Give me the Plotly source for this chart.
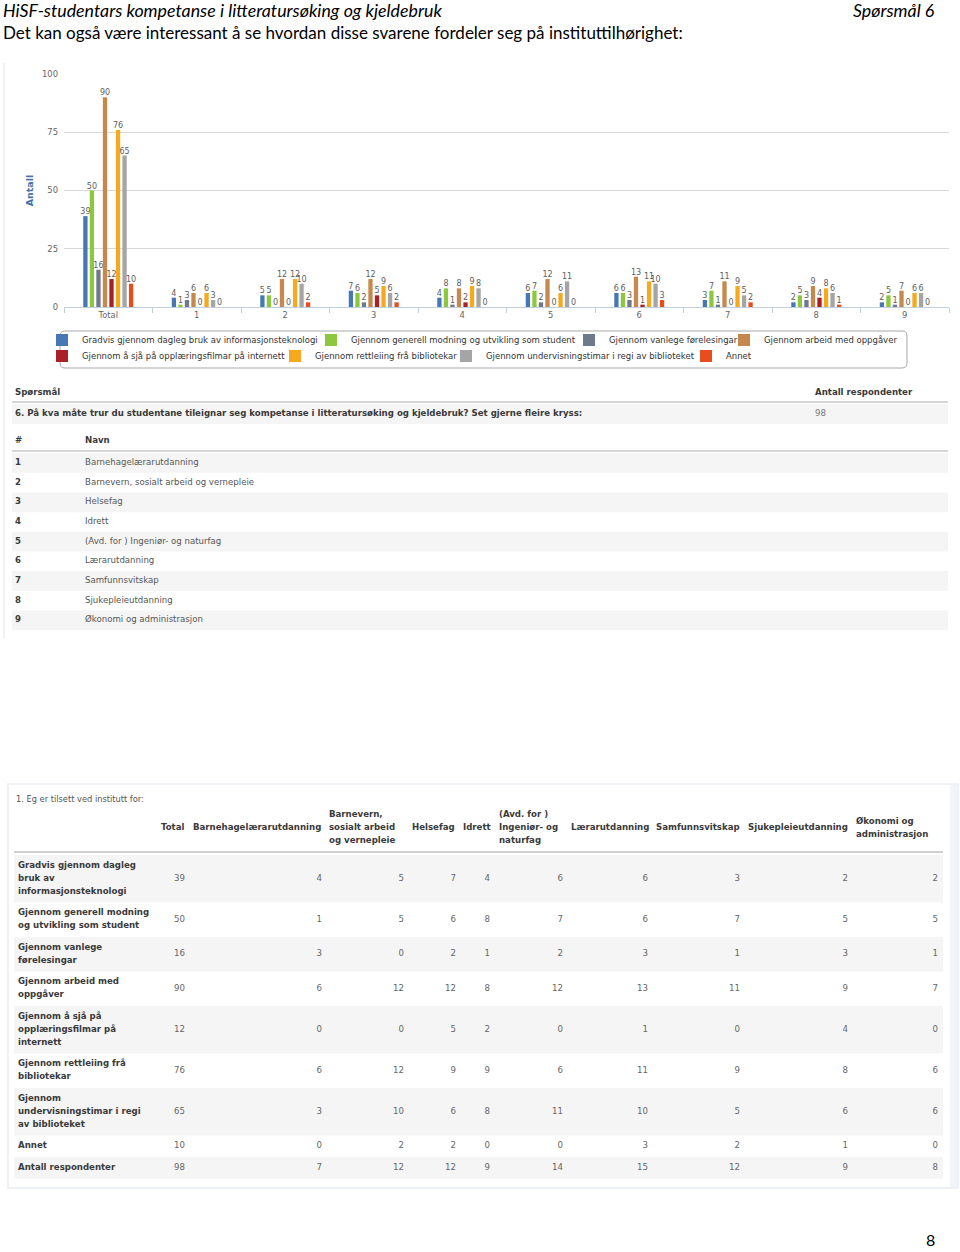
import plotly.graph_objects as go

W, H = 960, 1252

# ---------------- data ----------------
categories = ["Total", "1", "2", "3", "4", "5", "6", "7", "8", "9"]

series_names = [
    "Gradvis gjennom dagleg bruk av informasjonsteknologi",
    "Gjennom generell modning og utvikling som student",
    "Gjennom vanlege førelesingar",
    "Gjennom arbeid med oppgåver",
    "Gjennom å sjå på opplæringsfilmar på internett",
    "Gjennom rettleiing frå bibliotekar",
    "Gjennom undervisningstimar i regi av biblioteket",
    "Annet",
]
gradvis = [39, 4, 5, 7, 4, 6, 6, 3, 2, 2]
generell = [50, 1, 5, 6, 8, 7, 6, 7, 5, 5]
vanlege = [16, 3, 0, 2, 1, 2, 3, 1, 3, 1]
arbeid = [90, 6, 12, 12, 8, 12, 13, 11, 9, 7]
filmar = [12, 0, 0, 5, 2, 0, 1, 0, 4, 0]
rettleiing = [76, 6, 12, 9, 9, 6, 11, 9, 8, 6]
undervisning = [65, 3, 10, 6, 8, 11, 10, 5, 6, 6]
annet = [10, 0, 2, 2, 0, 0, 3, 2, 1, 0]
respondents = [98, 7, 12, 12, 9, 14, 15, 12, 9, 8]
series_values = [gradvis, generell, vanlege, arbeid, filmar, rettleiing, undervisning, annet]

department_names = [
    "Barnehagelærarutdanning",
    "Barnevern, sosialt arbeid og vernepleie",
    "Helsefag",
    "Idrett",
    "(Avd. for ) Ingeniør- og naturfag",
    "Lærarutdanning",
    "Samfunnsvitskap",
    "Sjukepleieutdanning",
    "Økonomi og administrasjon",
]
department_headers = [
    "Barnehagelærarutdanning",
    "Barnevern,<br>sosialt arbeid<br>og vernepleie",
    "Helsefag",
    "Idrett",
    "(Avd. for )<br>Ingeniør- og<br>naturfag",
    "Lærarutdanning",
    "Samfunnsvitskap",
    "Sjukepleieutdanning",
    "Økonomi og<br>administrasjon",
]
row_labels = [
    "Gradvis gjennom dagleg<br>bruk av<br>informasjonsteknologi",
    "Gjennom generell modning<br>og utvikling som student",
    "Gjennom vanlege<br>førelesingar",
    "Gjennom arbeid med<br>oppgåver",
    "Gjennom å sjå på<br>opplæringsfilmar på<br>internett",
    "Gjennom rettleiing frå<br>bibliotekar",
    "Gjennom<br>undervisningstimar i regi<br>av biblioteket",
    "Annet",
]
respondents_label = "Antall respondenter"
question_text = ("6. På kva måte trur du studentane tileignar seg kompetanse i litteratursøking "
                 "og kjeldebruk? Set gjerne fleire kryss:")
question_respondents = 98
table_c_title = "1. Eg er tilsett ved institutt for:"

# ---------------- styles ----------------
colors = ["#4778b4", "#8dc63f", "#6e7a89", "#c6894d", "#ab1f26", "#f6a91c", "#a5a5a5", "#e84d1d"]
legend_slot = [224, 213, 110, 145, 188, 126, 195, 40]
TF = "DejaVu Sans"
TS = 8.6
GRAY = "#f5f5f5"
CLEAR = "rgba(0,0,0,0)"
DARK = "#3a3a3a"
MID = "#666666"

fig = go.Figure()

for i, (name, vals) in enumerate(zip(series_names, series_values)):
    fig.add_trace(go.Bar(
        x=categories, y=vals, name=name,
        marker=dict(color=colors[i], line=dict(width=0)),
        text=vals, textposition="outside", textangle=0,
        constraintext="none", cliponaxis=False,
        textfont=dict(family=TF, size=8, color="#606060"),
        legend="legend" if i < 4 else "legend2",
        legendwidth=legend_slot[i],
        hoverinfo="skip",
    ))


# ---------------- tables (text drawn on a page-sized pixel axis x2/y2) ----------------
def add_text(xs, ys, texts, pos, color=MID, size=TS, family=TF):
    fig.add_trace(go.Scatter(
        x=xs, y=ys, text=texts, mode="text", textposition=pos,
        textfont=dict(family=family, size=size, color=color),
        xaxis="x2", yaxis="y2", showlegend=False, hoverinfo="skip", cliponaxis=False))


def bold(t):
    return "<b>" + str(t) + "</b>"


shapes = []


def stripe(x0, x1, y0, y1, color=GRAY):
    shapes.append(dict(type="rect", xref="x2", yref="y2", x0=x0, x1=x1, y0=y0, y1=y1,
                       line=dict(width=0), fillcolor=color, layer="below"))


def hline(x0, x1, y, color="#d6d6d6", width=2):
    shapes.append(dict(type="line", xref="x2", yref="y2", x0=x0, x1=x1, y0=y, y1=y,
                       line=dict(color=color, width=width), layer="below"))


# Table A: question
TA_head, TA_row, TA_h = 393, 414, 20
add_text([15, 815], [TA_head, TA_head], [bold("Spørsmål"), bold("Antall respondenter")], "middle right", DARK)
hline(12, 948, 402)
stripe(12, 948, TA_row - TA_h / 2, TA_row + TA_h / 2)
add_text([15], [TA_row], [bold(question_text)], "middle right", DARK)
add_text([815], [TA_row], [str(question_respondents)], "middle right", "#777777")

# Table B: department list
TB_head, TB_first, TB_h = 441, 463, 19.65
add_text([15, 85], [TB_head, TB_head], [bold("#"), bold("Navn")], "middle right", DARK)
hline(12, 948, 451)
tb_y = [TB_first + k * TB_h for k in range(len(department_names))]
for k, yc in enumerate(tb_y):
    if k % 2 == 0:
        stripe(12, 948, yc - TB_h / 2, yc + TB_h / 2)
add_text([15] * len(tb_y), tb_y, [bold(k + 1) for k in range(len(tb_y))], "middle right", DARK)
add_text([85] * len(tb_y), tb_y, department_names, "middle right", "#555555")

# Table C: cross tabulation
LINE = 13
header_left = [161, 193, 329, 412, 463, 499, 571, 656, 748, 856]
value_right = [185, 322, 404, 456, 490, 563, 648, 740, 848, 938]
label_x = 18
head_c = 828
top_c = 855

hx, hy, ht = [], [], []
for xh, htxt in zip(header_left, ["Total"] + department_headers):
    parts = htxt.split("<br>")
    for k, p in enumerate(parts):
        hx.append(xh)
        hy.append(head_c + (k - (len(parts) - 1) / 2) * LINE)
        ht.append(bold(p))
add_text(hx, hy, ht, "middle right", DARK)
hline(14, 943, 852, "#d0d0d0", 2)

labels_all = row_labels + [respondents_label]
rows_vals = series_values + [respondents]
lx, ly, lt = [], [], []
vx, vy, vt = [], [], []
y = top_c
for r_i, (lab, vals) in enumerate(zip(labels_all, rows_vals)):
    parts = lab.split("<br>")
    rh = 8.5 + LINE * len(parts)
    yc = y + rh / 2
    if r_i % 2 == 0:
        stripe(14, 943, y, y + rh)
    for k, p in enumerate(parts):
        lx.append(label_x)
        ly.append(yc + (k - (len(parts) - 1) / 2) * LINE)
        lt.append(bold(p))
    for xv, v in zip(value_right, vals):
        vx.append(xv)
        vy.append(yc)
        vt.append(str(v))
    y += rh
add_text(lx, ly, lt, "middle right", DARK)
add_text(vx, vy, vt, "middle left", MID)

# frames
shapes += [
    dict(type="line", xref="x2", yref="y2", x0=4, x1=4, y0=63, y1=638,
         line=dict(color="#eef1f5", width=2), layer="below"),
    dict(type="rect", xref="x2", yref="y2", x0=950, x1=958, y0=784, y1=1188,
         line=dict(width=0), fillcolor="#f1f4f8", layer="below"),
    dict(type="rect", xref="x2", yref="y2", x0=8, x1=958, y0=784, y1=1188,
         line=dict(color="#eef1f5", width=2), fillcolor=CLEAR, layer="below"),
]

# legend frame (rounded)
r = 5
x0, x1, y0, y1 = 60, 907, 331, 368
legend_box = ("M{a},{b} L{c},{b} Q{d},{b} {d},{e} L{d},{f} Q{d},{g} {c},{g} L{a},{g} "
              "Q{h},{g} {h},{f} L{h},{e} Q{h},{b} {a},{b} Z").format(
    a=x0 + r, b=y0, c=x1 - r, d=x1, e=y0 + r, f=y1 - r, g=y1, h=x0)
shapes.append(dict(type="path", xref="x2", yref="y2", path=legend_box,
                   line=dict(color="#a8a8a8", width=1), fillcolor=CLEAR, layer="below"))

annotations = [
    dict(text="<i>HiSF-studentars kompetanse i litteratursøking og kjeldebruk</i>",
         x=1, y=10, xanchor="left", yanchor="middle", size=17.8),
    dict(text="<i>Spørsmål 6</i>", x=937, y=10, xanchor="right", yanchor="middle", size=17.8),
    dict(text="Det kan også være interessant å se hvordan disse svarene fordeler seg på instituttilhørighet:",
         x=1, y=32, xanchor="left", yanchor="middle", size=17),
    dict(text="8", x=937, y=1251, xanchor="right", yanchor="bottom", size=16),
]
for a in annotations:
    sz = a.pop("size")
    a.update(xref="x2", yref="y2", showarrow=False, font=dict(family="Lato", size=sz, color="#000000"))
annotations.append(dict(text=table_c_title, x=14, y=798, xanchor="left", yanchor="middle",
                        xref="x2", yref="y2", showarrow=False,
                        font=dict(family="DejaVu Sans Condensed", size=9.2, color="#555555")))

# ---------------- layout ----------------
legend_common = dict(orientation="h", xanchor="left", yanchor="top",
                     font=dict(family=TF, size=8.5, color="#333333"),
                     bgcolor=CLEAR, borderwidth=0, itemwidth=30,
                     traceorder="normal", itemclick=False, itemdoubleclick=False)

fig.update_layout(
    width=W, height=H, margin=dict(l=0, r=0, t=0, b=0),
    paper_bgcolor="white", plot_bgcolor=CLEAR,
    barmode="group", bargap=0.41, bargroupgap=0.34,
    font=dict(family=TF, color="#606060"),
    showlegend=True,
    legend=dict(x=42 / W, y=1 - 325.5 / H, **legend_common),
    legend2=dict(x=42 / W, y=1 - 341.5 / H, **legend_common),
    xaxis=dict(domain=[64 / W, 949 / W], type="category", categoryorder="array", categoryarray=categories,
               showgrid=False, showline=True, linecolor="#c0d0e0", linewidth=1,
               ticks="outside", tickson="boundaries", ticklen=5, tickcolor="#c0d0e0",
               tickfont=dict(family=TF, size=8.4, color="#666666"), fixedrange=True),
    yaxis=dict(domain=[1 - 307 / H, 1 - 74 / H], range=[0, 100], tickvals=[0, 25, 50, 75, 100],
               showgrid=True, gridcolor="#d8d8d8", gridwidth=1, zeroline=False, showline=False,
               tickfont=dict(family=TF, size=8.4, color="#666666"), ticklabelstandoff=5,
               title=dict(text="<b>Antall</b>", font=dict(family=TF, size=9.5, color="#4572a7"), standoff=6),
               automargin=False, fixedrange=True),
    xaxis2=dict(domain=[0, 1], range=[0, W], visible=False, fixedrange=True, anchor="y2"),
    yaxis2=dict(domain=[0, 1], range=[H, 0], visible=False, fixedrange=True, anchor="x2"),
    shapes=shapes,
    annotations=annotations,
)

fig.write_html("out.html")
